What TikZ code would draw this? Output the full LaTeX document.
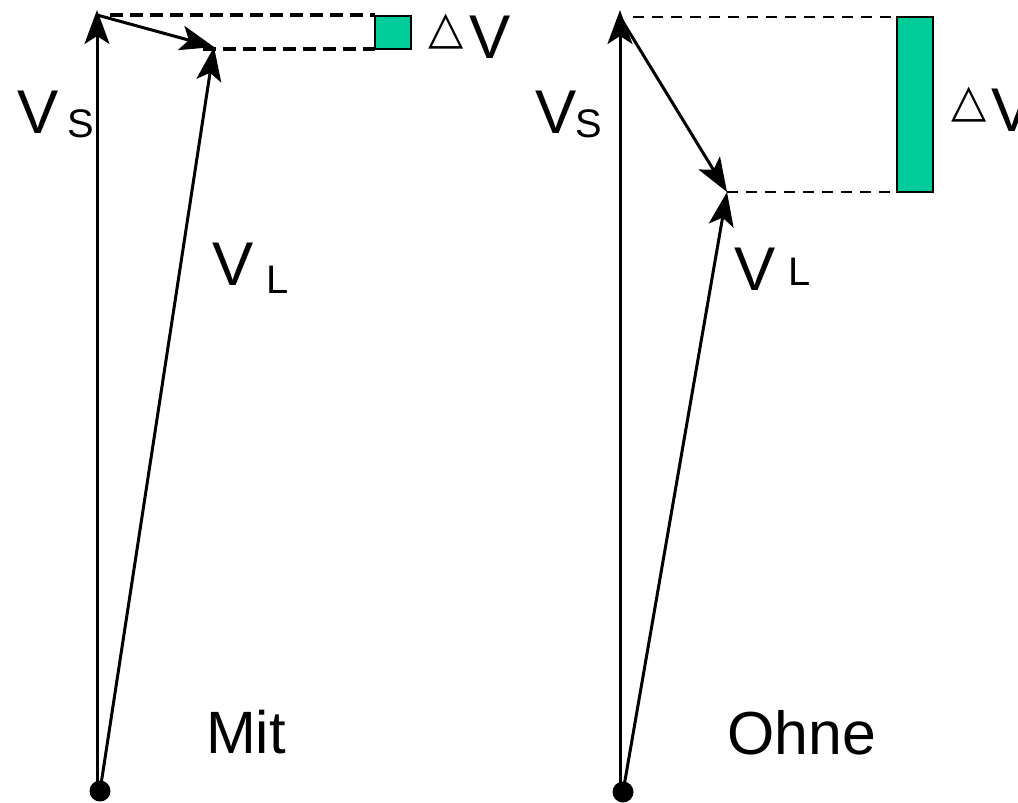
\documentclass[tikz,border=0pt]{standalone}
\usepackage{fontspec}
\setmainfont{Liberation Sans}
\newfontfamily\symfont{DejaVu Sans}
\usetikzlibrary{arrows.meta}
\definecolor{dvgreen}{HTML}{00CC99}
\tikzset{
  vec/.style={line width=3bp,-{Stealth[length=34bp,width=25bp,inset=8bp]}},
  dashL/.style={line width=3.8bp,dash pattern=on 13bp off 7bp},
  dashR/.style={line width=2.8bp,dash pattern=on 11bp off 8bp},
  dvbox/.style={draw=black,line width=2.5bp,fill=dvgreen},
  dotn/.style={circle,fill=black,inner sep=0pt,minimum size=21bp},
  lbl/.style={inner sep=0pt,anchor=base west},
  big/.style={font=\fontsize{62}{62}\selectfont},
  sub/.style={font=\fontsize{40}{40}\selectfont},
  del/.style={font=\symfont\fontsize{46}{46}\selectfont},
}
\begin{document}
\begin{tikzpicture}[x=1bp,y=-1bp]
\useasboundingbox (0,0) rectangle (1018,803);
% ---- left: Mit ----
\node[dotn] (o1) at (100,791) {};
\coordinate (b1) at (97,791);
\coordinate (t1) at (97,10);
\coordinate (t1s) at (97,15);
\coordinate (p1) at (214,47);
\coordinate (d1a) at (110,15);
\coordinate (d1b) at (375,15);
\coordinate (d1c) at (203,49);
\coordinate (d1d) at (375,49);
\draw[dashL] (d1a) -- (d1b);
\draw[dashL] (d1c) -- (d1d);
\draw[dvbox] (375,16) rectangle (411,49);
\draw[vec] (b1) -- (t1);
\draw[vec] (t1s) -- (p1);
\draw[vec] (o1.center) -- (p1);
\node[lbl,big] (vs1) at (17,133) {V};
\node[lbl,sub] (vs1s) at (67,137) {S};
\node[lbl,big] (vl1) at (212,285) {V};
\node[lbl,sub] (vl1s) at (266,293) {L};
\node[lbl,del] (dl1) at (428,44) {△};
\node[lbl,big] (dv1) at (469,59) {V};
\node[lbl,font=\fontsize{60}{60}\selectfont] (mit) at (206,753) {Mit};
% ---- right: Ohne ----
\node[dotn] (o2) at (623,792) {};
\coordinate (b2) at (620,792);
\coordinate (t2) at (620,10);
\coordinate (t2s) at (620,17);
\coordinate (p2) at (727,192);
\coordinate (d2a) at (633,17);
\coordinate (d2b) at (897,17);
\coordinate (d2c) at (727,192);
\coordinate (d2d) at (897,192);
\draw[dashR] (d2a) -- (d2b);
\draw[dashR] (d2c) -- (d2d);
\draw[dvbox] (897,17) rectangle (933,192);
\draw[vec] (b2) -- (t2);
\draw[vec] (t2s) -- (p2);
\draw[vec] (o2.center) -- (p2);
\node[lbl,big] (vs2) at (535,133) {V};
\node[lbl,sub] (vs2s) at (575,137) {S};
\node[lbl,big] (vl2) at (734,290) {V};
\node[lbl,sub] (vl2s) at (788,285) {L};
\node[lbl,del] (dl2) at (951,116) {△};
\node[lbl,big] (dv2) at (991,131) {V};
\node[lbl,font=\fontsize{61}{61}\selectfont] (ohne) at (727,754) {Ohne};
\end{tikzpicture}
\end{document}
